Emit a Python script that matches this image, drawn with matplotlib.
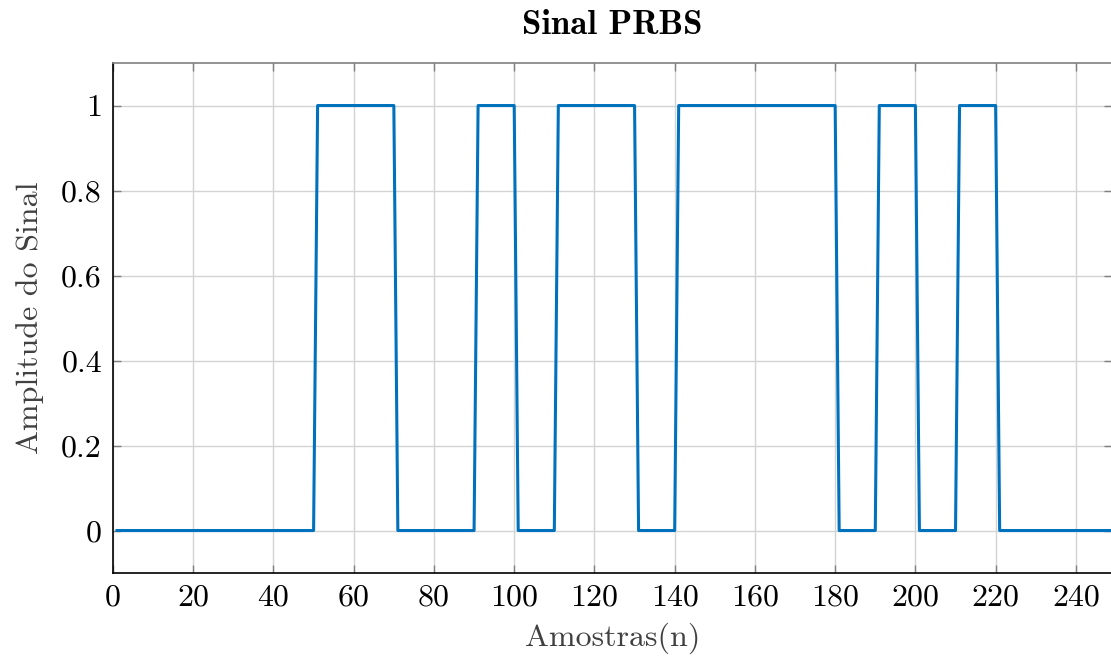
import numpy as np
import matplotlib
matplotlib.use('Agg')
import matplotlib.pyplot as plt

# PRBS bits, each held for a fixed number of samples
bits = [0, 0, 0, 0, 0, 1, 1, 0, 0, 1, 0, 1, 1, 0, 1, 1, 1, 1, 0, 1, 0, 1, 0, 0, 0]
samples_per_bit = 10

xticks = [0, 20, 40, 60, 80, 100, 120, 140, 160, 180, 200, 220, 240]
yticks = [0, 0.2, 0.4, 0.6, 0.8, 1]
ytick_labels = ['0', '0.2', '0.4', '0.6', '0.8', '1']

signal = np.repeat(bits, samples_per_bit)
n = np.arange(1, len(signal) + 1)

plt.rcParams['font.family'] = 'cmr10'
plt.rcParams['axes.formatter.use_mathtext'] = True

fig = plt.figure(figsize=(11.11, 6.56), dpi=100)
ax = fig.add_axes([0.1017, 0.1265, 0.8992, 0.7774])

ax.plot(n, signal, color='#0072BD', linewidth=2.2)

ax.set_xlim(0, 249)
ax.set_ylim(-0.1, 1.1)
ax.set_xticks(xticks)
ax.set_xticklabels([str(t) for t in xticks])
ax.set_yticks(yticks)
ax.set_yticklabels(ytick_labels)

ax.grid(True, color='#d3d3d3', linewidth=1.0)
ax.set_axisbelow(True)
ax.tick_params(direction='in', length=6, width=1, color='#808080',
               labelsize=23, top=True, right=True, pad=8)

for side in ('left', 'bottom'):
    ax.spines[side].set_color('black')
    ax.spines[side].set_linewidth(1.2)
for side in ('top', 'right'):
    ax.spines[side].set_color('#808080')
    ax.spines[side].set_linewidth(1.2)

ax.set_xlabel('Amostras(n)', fontsize=23, labelpad=8, color='#404040')
ax.set_ylabel('Amplitude do Sinal', fontsize=23, labelpad=12, color='#404040')
ax.set_title('Sinal PRBS', fontsize=25, family='cmb10', pad=21)

fig.savefig('out.png', dpi=100)
